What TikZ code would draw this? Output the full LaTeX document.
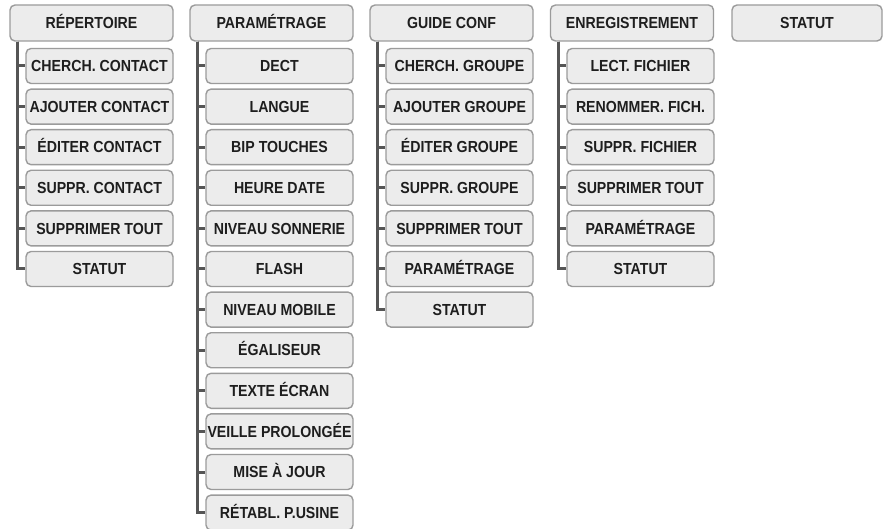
\documentclass[tikz,border=0pt]{standalone}
\usepackage{fontspec}
\setmainfont{Liberation Sans}[FakeStretch=0.885]
\usetikzlibrary{positioning}
\definecolor{menufill}{RGB}{236,236,236}
\definecolor{menuedge}{RGB}{155,155,155}
\definecolor{menuline}{RGB}{85,85,85}
\definecolor{menutext}{RGB}{30,30,30}

\begin{document}
\begin{tikzpicture}[x=1pt,y=-1pt,
    every node/.style={font=\bfseries\fontsize{16}{18}\selectfont,text=menutext,
                       text height=11.5pt,text depth=0pt},
    topbox/.style={draw=menuedge,line width=1.4pt,fill=menufill,rounded corners=5pt,
                   minimum width=163pt,minimum height=36pt,inner sep=0pt},
    subbox/.style={topbox,minimum width=147pt,minimum height=35pt},
    branch/.style={menuline,line width=3pt}]
    \useasboundingbox (0,0) rectangle (883,529);
    % main menu
    \node[topbox] (rep) at (91.5,23) {RÉPERTOIRE};
    \node[topbox] (par) at (271.5,23) {PARAMÉTRAGE};
    \node[topbox] (gui) at (451.5,23) {GUIDE CONF};
    \node[topbox] (enr) at (632,23) {ENREGISTREMENT};
    \node[topbox,minimum width=150pt] (sta) at (807,23) {STATUT};
    % sub menus
    \foreach \t [count=\k] in {CHERCH. CONTACT,AJOUTER CONTACT,ÉDITER CONTACT,
        SUPPR. CONTACT,SUPPRIMER TOUT,STATUT}
      \node[subbox] (rep-\k) at (99.5,{66+40.6*(\k-1)}) {\t};
    \foreach \t [count=\k] in {DECT,LANGUE,BIP TOUCHES,HEURE DATE,NIVEAU SONNERIE,
        FLASH,NIVEAU MOBILE,ÉGALISEUR,TEXTE ÉCRAN,VEILLE PROLONGÉE,MISE À JOUR,
        RÉTABL. P.USINE}
      \node[subbox] (par-\k) at (279.5,{66+40.6*(\k-1)}) {\t};
    \foreach \t [count=\k] in {CHERCH. GROUPE,AJOUTER GROUPE,ÉDITER GROUPE,
        SUPPR. GROUPE,SUPPRIMER TOUT,PARAMÉTRAGE,STATUT}
      \node[subbox] (gui-\k) at (459.5,{66+40.6*(\k-1)}) {\t};
    \foreach \t [count=\k] in {LECT. FICHIER,RENOMMER. FICH.,SUPPR. FICHIER,
        SUPPRIMER TOUT,PARAMÉTRAGE,STATUT}
      \node[subbox] (enr-\k) at (640.5,{66+40.6*(\k-1)}) {\t};
    % branches
    \foreach \k in {1,...,6}
      \draw[branch] ([xshift=8.5pt]rep.south west) |- (rep-\k.west);
    \foreach \k in {1,...,12}
      \draw[branch] ([xshift=8.5pt]par.south west) |- (par-\k.west);
    \foreach \k in {1,...,7}
      \draw[branch] ([xshift=8.5pt]gui.south west) |- (gui-\k.west);
    \foreach \k in {1,...,6}
      \draw[branch] ([xshift=8.5pt]enr.south west) |- (enr-\k.west);
\end{tikzpicture}
\end{document}
